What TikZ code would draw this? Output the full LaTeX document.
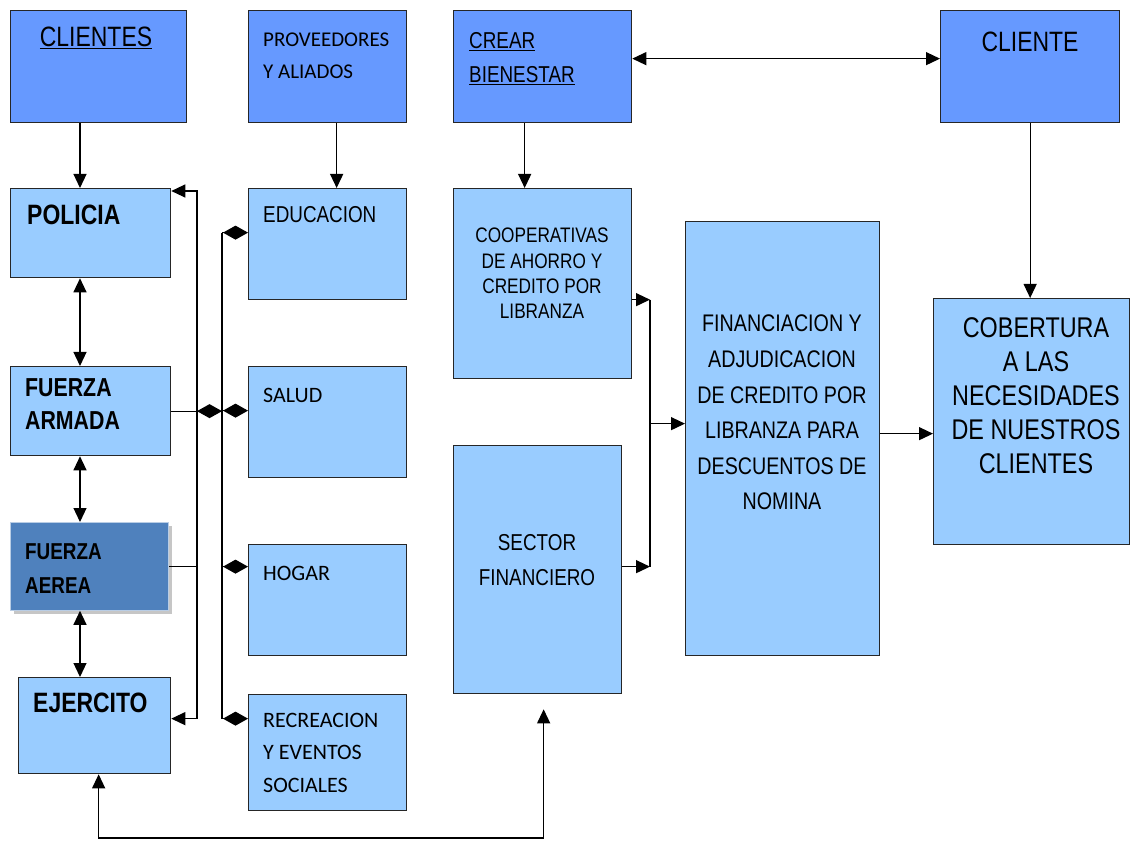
\documentclass[tikz,border=0pt]{standalone}
\usepackage{fontspec}
\setmainfont{Carlito}
\newfontfamily\arialn[FakeStretch=0.82]{Liberation Sans}
\usetikzlibrary{arrows.meta,shadows}

\definecolor{topblue}{HTML}{6699FF}
\definecolor{lightblue}{HTML}{99CCFF}
\definecolor{steelblue}{HTML}{4F81BD}

\begin{document}
\begin{tikzpicture}[
        x=1pt, y=-1pt, % координаты в пикселях, ось y вниз
        box/.style={draw=black!85, line width=1.3pt, anchor=north west, inner sep=0pt},
        topbox/.style={box, fill=topblue}, % верхний ряд
        cell/.style={box, fill=lightblue}, % светлые блоки
        txt/.style={inner sep=0pt, anchor=north west, align=left, text=black},
        ctr/.style={inner sep=0pt, anchor=north, align=center, text=black},
        line/.style={draw=black, line width=1.2pt},
        arr/.style={line, -{Triangle[length=14pt,width=13pt]}},
        dbl/.style={line, {Triangle[length=14pt,width=13pt]}-{Triangle[length=14pt,width=13pt]}},
        dia/.style={line, -{Diamond[length=25pt,width=14pt]}},
    ]
    \useasboundingbox (0,0) rectangle (1130,842);

    % верхний ряд
    \node[topbox, minimum width=176pt, minimum height=112pt] (clientes) at (10,10) {};
    \node[topbox, minimum width=158pt, minimum height=112pt] (prov) at (248,10) {};
    \node[topbox, minimum width=178pt, minimum height=112pt] (crear) at (453,10) {};
    \node[topbox, minimum width=179pt, minimum height=112pt] (cliente) at (940,10) {};

    % левая колонка
    \node[cell, minimum width=160pt, minimum height=89pt] (policia) at (10,188) {};
    \node[cell, minimum width=160pt, minimum height=89pt] (armada) at (10,366) {};
    \node[box, fill=steelblue, draw=steelblue!40, line width=0.8pt, minimum width=158pt, minimum height=88pt,
        drop shadow={shadow xshift=4pt, shadow yshift=-4pt, fill=gray!45, opacity=1}] (aerea) at (10,522) {};
    \node[cell, minimum width=152pt, minimum height=96pt] (ejercito) at (18,677) {};

    % вторая колонка
    \node[cell, minimum width=158pt, minimum height=111pt] (educ) at (248,188) {};
    \node[cell, minimum width=158pt, minimum height=111pt] (salud) at (248,366) {};
    \node[cell, minimum width=158pt, minimum height=111pt] (hogar) at (248,544) {};
    \node[cell, minimum width=158pt, minimum height=116pt] (recre) at (248,694) {};

    % правая часть
    \node[cell, minimum width=178pt, minimum height=190pt] (coop) at (453,188) {};
    \node[cell, minimum width=168pt, minimum height=248pt] (sector) at (453,445) {};
    \node[cell, minimum width=194pt, minimum height=434pt] (finan) at (685,221) {};
    \node[cell, minimum width=196pt, minimum height=246pt] (cobert) at (933,298) {};

    % подписи
    \node[ctr, font=\arialn\fontsize{28}{33}\selectfont] (clientes-t) at (96,27) {\underline{CLIENTES}};
    \node[txt, font=\fontsize{21}{32}\selectfont] (prov-t) at (263,33) {PROVEEDORES\\Y ALIADOS};
    \node[txt, font=\arialn\fontsize{23}{34}\selectfont] (crear-t) at (469,32) {\underline{CREAR}\\\underline{BIENESTAR}};
    \node[ctr, font=\arialn\fontsize{28}{33}\selectfont] (cliente-t) at (1030,32) {CLIENTE};
    \node[txt, font=\arialn\bfseries\fontsize{28}{33}\selectfont] (policia-t) at (27,205) {POLICIA};
    \node[txt, font=\arialn\bfseries\fontsize{26}{33}\selectfont] (armada-t) at (25,378) {FUERZA\\ARMADA};
    \node[txt, font=\arialn\bfseries\fontsize{23}{34}\selectfont] (aerea-t) at (25,543) {FUERZA\\AEREA};
    \node[txt, font=\arialn\bfseries\fontsize{28}{33}\selectfont] (ejercito-t) at (33,693) {EJERCITO};
    \node[txt, font=\arialn\fontsize{23}{33}\selectfont] (educ-t) at (263,206) {EDUCACION};
    \node[txt, font=\fontsize{22}{32.5}\selectfont] (salud-t) at (263,388) {SALUD};
    \node[txt, font=\fontsize{22}{32.5}\selectfont] (hogar-t) at (263,566) {HOGAR};
    \node[txt, font=\fontsize{22}{32.5}\selectfont] (recre-t) at (263,713) {RECREACION\\Y EVENTOS\\SOCIALES};
    \node[ctr, font=\arialn\fontsize{21}{25.3}\selectfont] (coop-t) at (542,228) {COOPERATIVAS\\DE AHORRO Y\\CREDITO POR\\LIBRANZA};
    \node[ctr, font=\arialn\fontsize{23}{35}\selectfont] (sector-t) at (537,534) {SECTOR\\FINANCIERO};
    \node[ctr, font=\arialn\fontsize{24}{35.6}\selectfont] (finan-t) at (782,315) {FINANCIACION Y\\ADJUDICACION\\DE CREDITO POR\\LIBRANZA PARA\\DESCUENTOS DE\\NOMINA};
    \node[ctr, font=\arialn\fontsize{28.5}{34}\selectfont] (cobert-t) at (1036,317) {COBERTURA\\A LAS\\NECESIDADES\\DE NUESTROS\\CLIENTES};

    % вспомогательные точки
    \coordinate (colx) at (80,0);
    \coordinate (busa) at (197,0);
    \coordinate (busb) at (222,0);
    \coordinate (busc) at (650,0);
    \coordinate (rail) at (0,838);
    \coordinate (po-in) at ([yshift=-3pt]policia.north east);
    \coordinate (ej-in) at ([yshift=7pt]ejercito.east);
    \coordinate (educ-in) at ([yshift=11.5pt]educ.west);
    \coordinate (salud-in) at ([yshift=11.5pt]salud.west);
    \coordinate (hogar-in) at ([yshift=33.5pt]hogar.west);
    \coordinate (recre-in) at ([yshift=34pt]recre.west);
    \coordinate (coop-out) at ([yshift=-16pt]coop.east);
    \coordinate (sector-out) at ([yshift=3pt]sector.east);
    \coordinate (finan-in) at ([yshift=15pt]finan.west);
    \coordinate (finan-out) at ([yshift=5pt]finan.east);

    % связи сверху
    \draw[arr] (clientes.south -| colx) -- (policia.north -| colx);
    \draw[arr] ([xshift=9pt]prov.south) -- ([xshift=9pt]prov.south |- educ.north);
    \draw[arr] ([xshift=-18pt]crear.south) -- ([xshift=-18pt]crear.south |- coop.north);
    \draw[arr] (cliente.south) -- (cliente.south |- cobert.north);
    \draw[dbl] ([yshift=8pt]crear.east) -- ([yshift=8pt]crear.east -| cliente.west);

    % левая колонка
    \draw[dbl] (policia.south -| colx) -- (armada.north -| colx);
    \draw[dbl] (armada.south -| colx) -- (aerea.north -| colx);
    \draw[dbl] (aerea.south -| colx) -- (ejercito.north -| colx);
    \draw[dbl] (po-in) -| (busa |- ej-in) -- (ej-in);
    \draw[line] (aerea.east) -- (busa |- aerea.east);
    \draw[dia] (armada.east) -- (busb |- armada.east);

    % шина к услугам
    \draw[line] (busb |- educ-in) -- (busb |- recre-in);
    \draw[dia] (busb |- educ-in) -- (educ-in);
    \draw[dia] (busb |- salud-in) -- (salud-in);
    \draw[dia] (busb |- hogar-in) -- (hogar-in);
    \draw[dia] (busb |- recre-in) -- (recre-in);

    % финансирование
    \draw[arr] (coop-out) -- (busc |- coop-out);
    \draw[arr] (sector-out) -- (busc |- sector-out);
    \draw[line] (busc |- coop-out) -- (busc |- sector-out);
    \draw[arr] (busc |- finan-in) -- (finan-in);
    \draw[arr] (finan-out) -- (finan-out -| cobert.west);

    % нижняя связь
    \draw[dbl] ([xshift=4pt]ejercito.south) -- ([xshift=4pt]ejercito.south |- rail) -| ([xshift=6pt,yshift=-15pt]sector.south);
\end{tikzpicture}
\end{document}
